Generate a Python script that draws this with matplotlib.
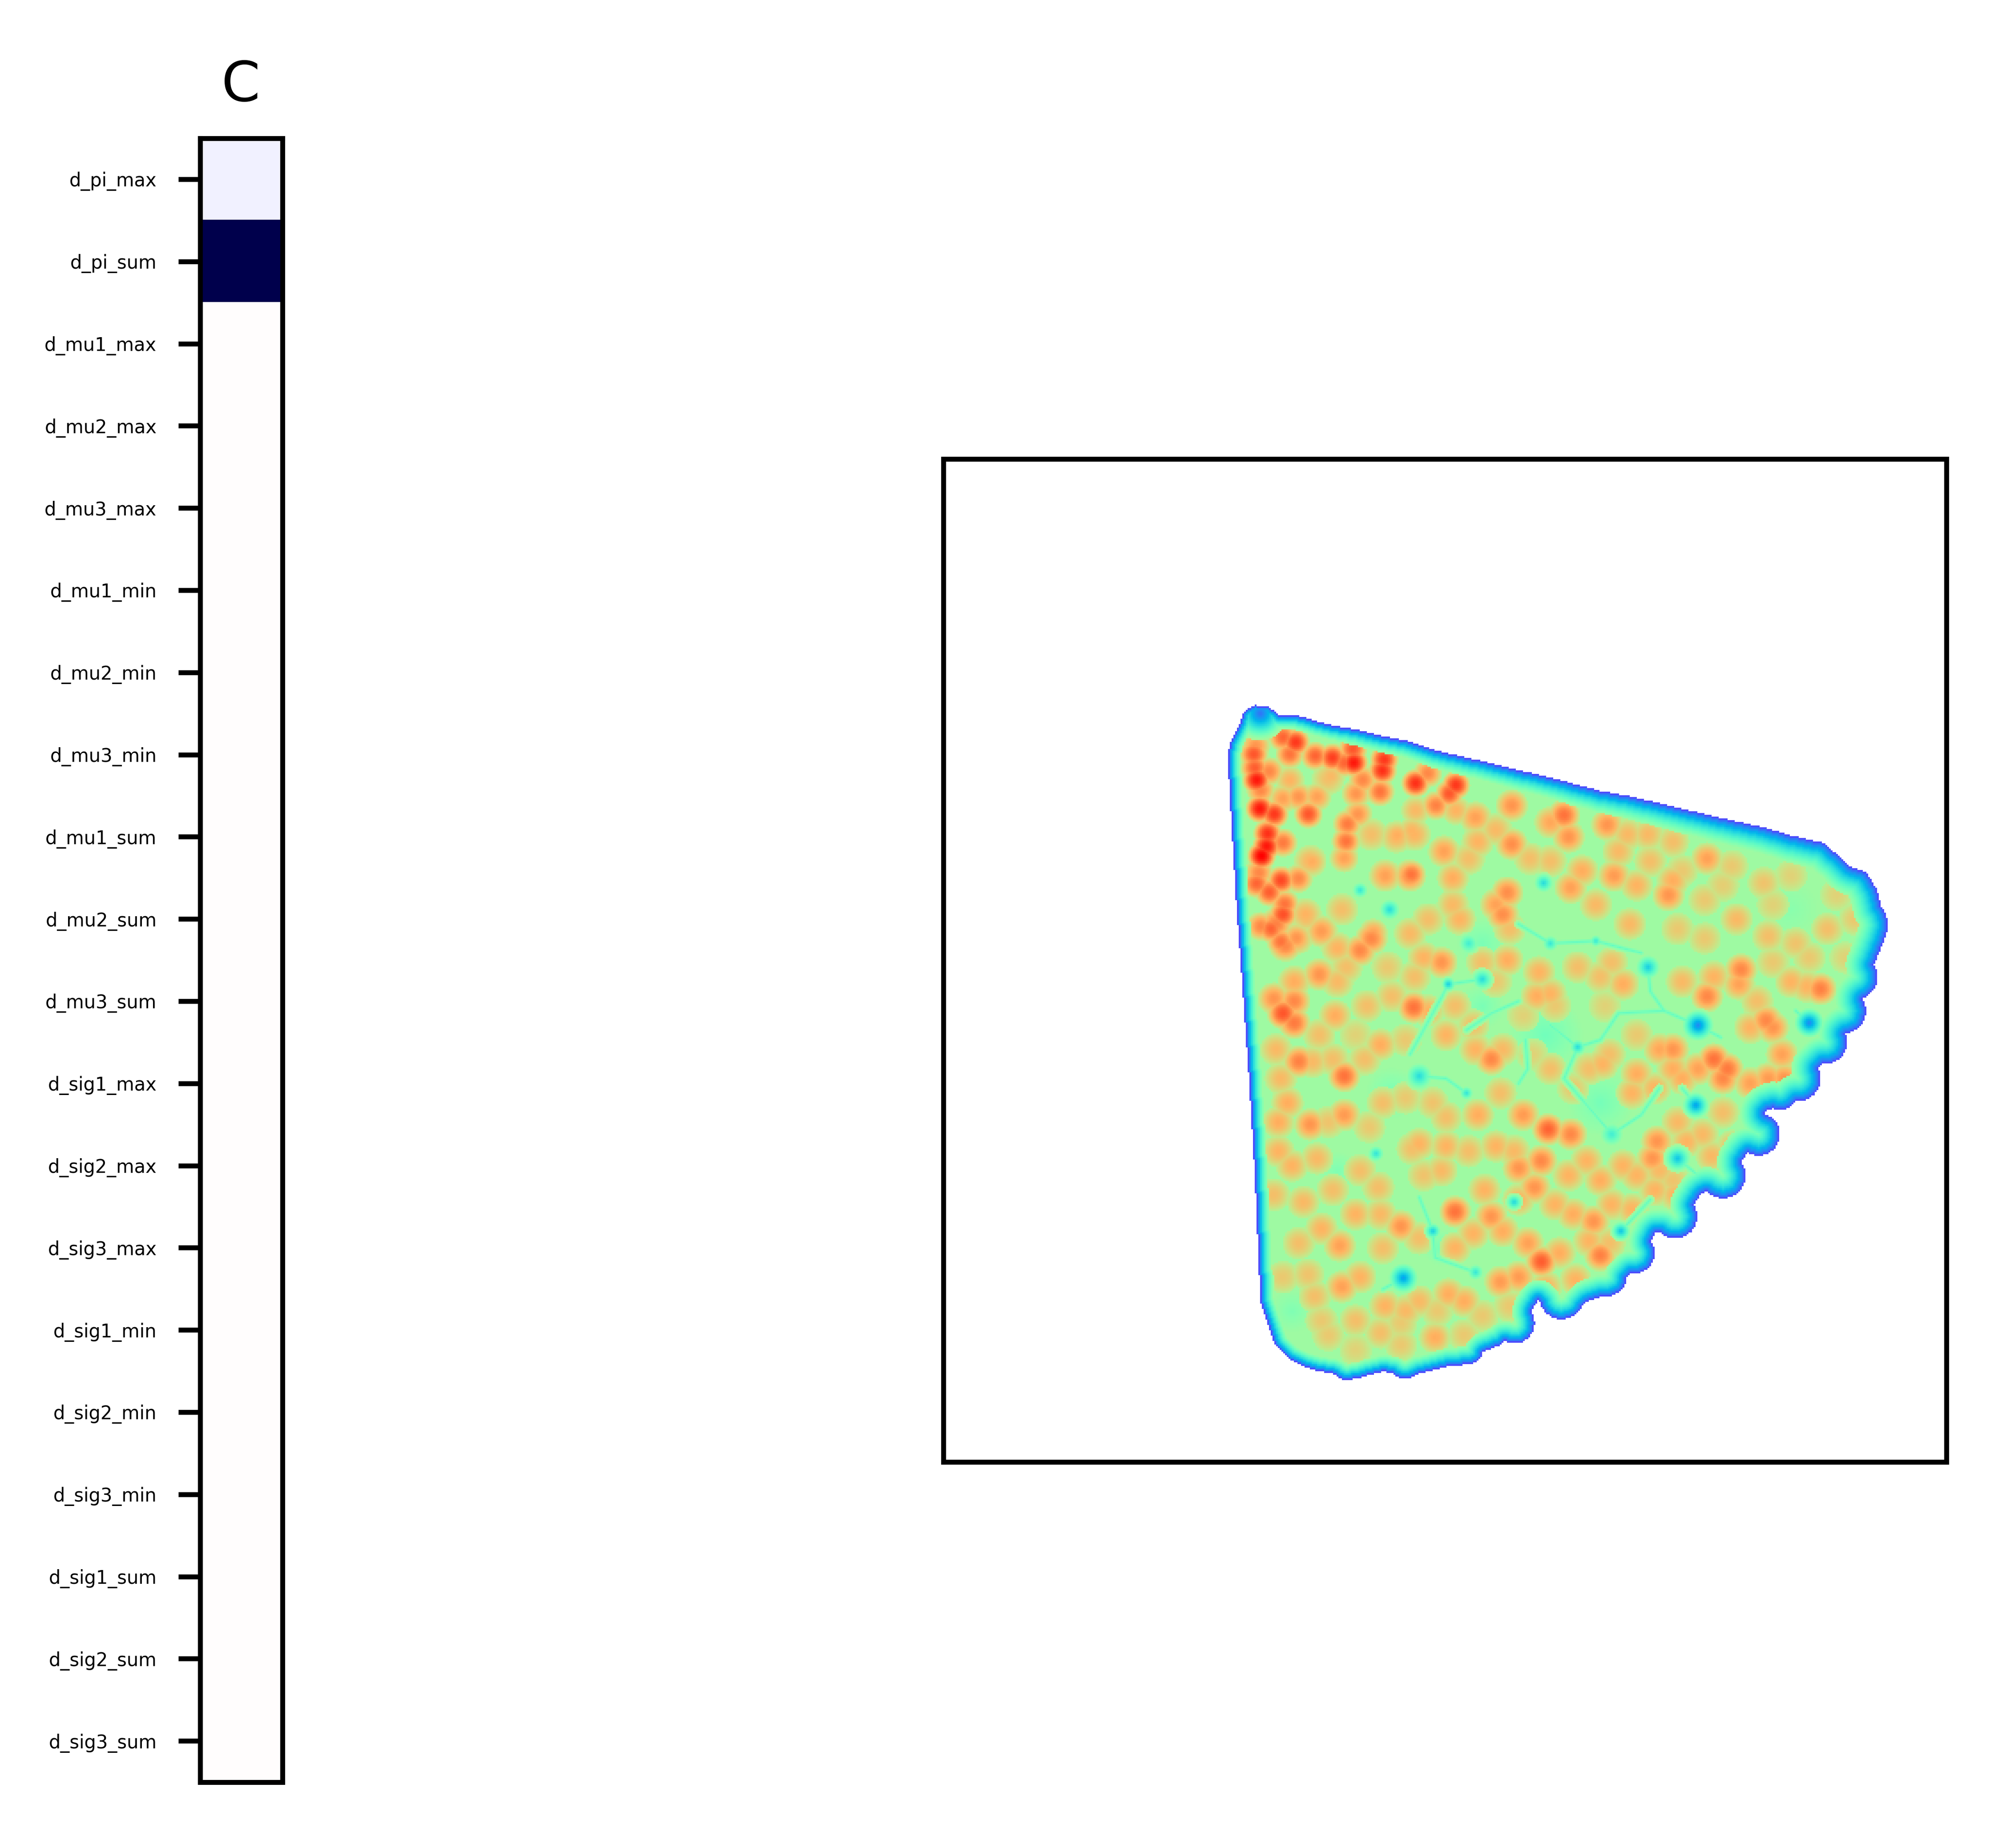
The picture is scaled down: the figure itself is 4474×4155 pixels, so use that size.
import numpy as np
from matplotlib import pyplot as plt
from matplotlib.path import Path

W, H = 4474, 4155

# left column, values
feature_names = ['d_pi_max', 'd_pi_sum', 'd_mu1_max', 'd_mu2_max', 'd_mu3_max',
                 'd_mu1_min', 'd_mu2_min', 'd_mu3_min', 'd_mu1_sum', 'd_mu2_sum',
                 'd_mu3_sum', 'd_sig1_max', 'd_sig2_max', 'd_sig3_max', 'd_sig1_min',
                 'd_sig2_min', 'd_sig3_min', 'd_sig1_sum', 'd_sig2_sum', 'd_sig3_sum']
feature_values = [-0.03, -1.0, 0.004, 0.004, 0.004, 0.004, 0.004, 0.004, 0.004, 0.004,
                  0.004, 0.004, 0.004, 0.004, 0.004, 0.004, 0.004, 0.004, 0.004, 0.004]

# map outline
outline = [(85, 115), (95, 90), (120, 78), (150, 82), (172, 100), (215, 100), (280, 118),
           (340, 128), (400, 142), (460, 153), (520, 172), (580, 185), (640, 198), (700, 212),
           (760, 225), (820, 240), (880, 255), (940, 265), (1000, 278), (1060, 292), (1120, 305),
           (1180, 318), (1240, 330), (1300, 347), (1370, 362), (1400, 385), (1430, 412),
           (1465, 422), (1490, 460), (1500, 500), (1515, 535), (1500, 575), (1485, 610),
           (1440, 680), (1420, 750), (1380, 800), (1340, 860), (1300, 905), (1245, 915),
           (1200, 1010), (1160, 1050), (1100, 1090), (1060, 1150), (1000, 1170), (960, 1240),
           (895, 1295), (840, 1315), (795, 1310), (745, 1305), (700, 1370), (660, 1400),
           (620, 1415), (590, 1440), (540, 1445), (500, 1455), (450, 1465), (400, 1455),
           (340, 1470), (290, 1460), (240, 1450), (195, 1430), (160, 1395), (130, 1310),
           (125, 1200), (118, 1050), (105, 850), (90, 650), (78, 500), (65, 300), (58, 180),
           (65, 155)]

# round lobes on the outline: x, y, radius
lobes = [(130, 118, 42), (1450, 530, 62), (1440, 640, 50), (1415, 710, 50), (1375, 775, 48),
         (1315, 850, 50), (1275, 875, 42), (1228, 965, 47), (1150, 1050, 50), (1045, 1135, 48),
         (955, 1210, 45), (895, 1260, 42), (795, 1300, 50), (690, 1355, 45), (585, 1405, 38),
         (450, 1432, 40), (320, 1445, 30)]

# hot cells: x, y, peak. this first group was read from a closer crop, its y needs no stretch
hot_top_left = [(120, 173, .8), (116, 191, .89), (118, 221, .88), (122, 248, .97), (150, 229, .82),
                (195, 191, .85), (208, 165, .93), (180, 154, .87), (251, 195, .87), (289, 199, .92),
                (315, 210, .87), (336, 210, .97), (334, 180, .89), (403, 203, .93), (399, 227, .94),
                (356, 248, .82), (472, 255, .94), (499, 233, .82), (562, 259, .93), (547, 278, .89),
                (517, 304, .83), (394, 274, .85), (341, 278, .8), (195, 248, .75), (285, 240, .74),
                (131, 270, .82), (180, 289, .78), (129, 311, .97), (161, 323, .93), (236, 323, .89),
                (214, 285, .8), (255, 285, .78), (345, 323, .8), (322, 345, .84), (319, 383, .85),
                (146, 366, .94), (144, 394, .97), (133, 415, 1.0), (180, 386, .84), (244, 428, .76),
                (315, 420, .78), (463, 456, .85), (405, 461, .78), (553, 461, .75), (214, 465, .82),
                (176, 469, .91), (150, 495, .88), (122, 476, .87), (127, 452, .82), (180, 544, .9),
                (184, 521, .85), (232, 551, .74), (262, 578, .76), (131, 570, .82), (154, 576, .87),
                (176, 604, .85), (210, 596, .8), (379, 585, .78), (349, 623, .78), (431, 370, .76),
                (465, 360, .75), (536, 405, .77), (562, 315, .75), (472, 315, .74)]
hot_top = [(605, 310, .78), (685, 285, .8), (800, 305, .85), (810, 350, .8), (895, 325, .8),
           (685, 365, .81), (650, 335, .74), (770, 320, .77), (940, 345, .74), (985, 345, .74),
           (1040, 360, .73), (1115, 395, .78), (920, 380, .74), (840, 420, .76), (910, 430, .79),
           (815, 455, .78), (1030, 470, .8), (1040, 440, .76), (870, 490, .74), (1180, 520, .74),
           (1250, 555, .73), (1310, 570, .72), (1380, 540, .73), (1240, 445, .72), (1150, 450, .7)]
hot_mid = [(675, 465, .81), (650, 490, .78), (665, 510, .81), (555, 435, .76), (555, 490, .74),
           (945, 530, .74), (375, 560, .82), (350, 585, .82), (265, 545, .79), (460, 550, .74),
           (490, 600, .75), (530, 610, .8), (675, 605, .76), (745, 630, .75), (930, 655, .76),
           (905, 610, .73), (740, 680, .76), (770, 675, .75), (185, 575, .82), (210, 560, .78),
           (230, 510, .75), (165, 530, .83)]
hot_left = [(260, 635, .8), (205, 650, .76), (300, 650, .74), (205, 690, .82), (180, 715, .89),
            (160, 685, .8), (205, 735, .84), (295, 720, .76), (365, 700, .73), (468, 703, .85),
            (395, 780, .76), (215, 815, .83), (165, 790, .74), (245, 815, .74), (315, 845, .85),
            (240, 945, .8), (190, 900, .76), (315, 925, .79), (175, 850, .74), (280, 940, .72)]
hot_centre = [(640, 810, .82), (605, 790, .75), (665, 790, .74), (610, 925, .76), (710, 925, .79),
              (765, 955, .87), (815, 965, .82), (750, 1020, .82), (700, 1035, .8), (735, 1075, .8),
              (690, 1000, .74), (625, 1080, .75), (560, 1125, .85), (640, 1135, .8), (665, 1165, .76),
              (530, 1040, .74), (465, 995, .73), (510, 900, .72), (440, 1155, .8), (395, 1130, .74),
              (200, 1030, .75), (255, 1015, .74), (305, 1195, .78), (265, 1160, .75), (215, 1190, .73),
              (225, 1105, .74), (390, 1075, .73), (490, 1050, .72), (310, 1280, .78), (235, 1255, .72),
              (545, 1295, .76), (580, 1310, .76), (405, 1320, .75), (450, 1330, .74), (480, 1310, .74),
              (515, 1385, .76), (395, 1375, .73), (440, 1355, .71), (265, 1350, .71), (660, 1270, .79),
              (700, 1260, .79), (750, 1228, .88), (720, 1190, .78), (790, 1210, .76), (825, 1265, .75),
              (880, 1215, .83), (865, 1145, .8), (820, 1130, .76), (905, 1110, .75), (855, 1185, .75),
              (960, 1050, .75), (995, 1015, .8), (1010, 1040, .74), (1045, 1090, .75), (1005, 980, .8),
              (1050, 940, .74), (1105, 965, .74), (1125, 1010, .74), (1150, 920, .73), (960, 840, .76),
              (885, 820, .75), (855, 830, .73), (1040, 1060, .72)]
hot_right = [(1040, 790, .8), (1130, 810, .85), (1160, 830, .84), (1150, 850, .82), (1095, 830, .78),
             (1060, 850, .76), (1210, 860, .78), (1250, 850, .79), (1285, 850, .8), (1280, 800, .78),
             (1245, 730, .82), (1260, 745, .8), (1210, 745, .75), (1190, 625, .82), (1185, 655, .78),
             (1115, 680, .82), (1060, 650, .74), (1130, 640, .75), (1300, 650, .75), (1365, 665, .83),
             (1335, 660, .75), (1225, 690, .73)]
# the paler peach cells that fill the rest
pale_cells = [(280, 230, .73), (375, 345, .73), (430, 350, .75), (470, 345, .75), (240, 400, .75),
              (405, 430, .78), (460, 430, .82), (535, 380, .78), (590, 395, .73), (610, 360, .75),
              (725, 395, .73), (770, 400, .73), (990, 400, .73), (1060, 420, .71), (1170, 410, .71),
              (1300, 430, .69), (960, 450, .75), (1110, 480, .71), (1260, 490, .69), (1400, 470, .69),
              (1440, 520, .71), (1110, 560, .71), (1340, 600, .71), (1420, 600, .69), (1260, 610, .71),
              (1050, 540, .71), (570, 520, .75), (500, 520, .73), (310, 500, .73), (300, 580, .75),
              (320, 620, .73), (410, 620, .71), (470, 640, .73), (680, 540, .73), (830, 620, .73),
              (880, 640, .73), (620, 610, .73), (650, 650, .71), (560, 700, .73), (500, 710, .75),
              (420, 680, .73), (340, 760, .69), (260, 760, .73), (290, 810, .73), (360, 810, .73),
              (450, 770, .71), (540, 760, .75), (600, 740, .73), (710, 720, .69), (780, 700, .71),
              (890, 700, .69), (960, 760, .71), (900, 800, .73), (770, 830, .73), (730, 800, .69),
              (820, 870, .71), (950, 880, .75), (1000, 870, .75), (1040, 830, .76), (1010, 790, .77),
              (660, 880, .73), (540, 930, .73), (450, 890, .71), (400, 900, .73), (370, 950, .71),
              (480, 985, .75), (540, 990, .75), (590, 1000, .73), (650, 990, .75), (850, 1020, .75),
              (810, 1050, .75), (880, 1060, .76), (930, 1030, .75), (1070, 980, .75), (1170, 990, .73),
              (1000, 1080, .75), (900, 1190, .73), (950, 1120, .75), (780, 1110, .75), (700, 1100, .75),
              (600, 1170, .75), (560, 1200, .75), (480, 1180, .73), (400, 1200, .73), (340, 1130, .75),
              (290, 1080, .73), (350, 1040, .73), (160, 1090, .73), (180, 1260, .71), (250, 1300, .73),
              (350, 1260, .75), (280, 1380, .71), (340, 1350, .73), (520, 1330, .71), (620, 1340, .71),
              (580, 1380, .71), (680, 1320, .71), (760, 1280, .75), (440, 1400, .71), (340, 1410, .69),
              (170, 1000, .75), (170, 940, .76)]

# broad cooler patches under the cells: x, y, lowest value, radius
cool_zones = [(760, 760, .47, 120), (420, 880, .49, 90), (880, 900, .48, 110), (620, 570, .49, 90),
              (300, 1040, .5, 70), (200, 1330, .5, 80), (1300, 500, .52, 120), (530, 1200, .48, 60),
              (620, 700, .49, 80)]

# cold spots: x, y, lowest value, radius
cold_spots = [(1095, 740, .18, 38), (1340, 735, .18, 36), (1090, 905, .22, 32), (545, 655, .3, 18),
              (620, 645, .33, 26), (755, 445, .33, 24), (415, 500, .33, 26), (350, 460, .36, 20),
              (445, 1262, .22, 36), (510, 1165, .3, 20), (925, 1165, .28, 24), (1050, 1015, .28, 32),
              (985, 620, .3, 30), (480, 845, .33, 33), (830, 785, .33, 20), (585, 880, .35, 17),
              (690, 1105, .32, 20), (385, 1005, .35, 20), (905, 965, .38, 30), (605, 1250, .36, 20),
              (770, 570, .36, 20), (870, 565, .36, 15), (590, 570, .38, 26), (130, 95, .15, 60)]

# thin cyan creases between the cells
cold_veins = [[(985, 620), (990, 670), (1020, 710), (1095, 740)],
              [(770, 740), (830, 785), (880, 770), (920, 715), (1020, 710)],
              [(715, 770), (720, 830), (700, 860)],
              [(480, 845), (540, 850), (585, 880)],
              [(585, 750), (640, 715), (700, 690)],
              [(700, 530), (770, 570), (870, 565), (970, 590)],
              [(1095, 740), (1145, 765)],
              [(1090, 905), (1060, 870)],
              [(905, 965), (970, 925), (1010, 870)],
              [(510, 1165), (515, 1220), (605, 1250)],
              [(480, 1095), (510, 1165)],
              [(830, 785), (800, 850), (905, 965)],
              [(445, 1262), (400, 1285)],
              [(1050, 1015), (1095, 1050)],
              [(925, 1165), (990, 1100)],
              [(1340, 735), (1310, 710)],
              [(545, 655), (620, 645)],
              [(545, 655), (460, 800)]]

# the big crop came back squeezed in y, this undoes it
YS = 1.0664

# the map covers 564 cells, coordinates are those of the reading above
n = 564
x0, x1, y0, y1 = -567.9, 1642.0, -459.1, 1750.8
step = (x1 - x0) / n
gx, gy = np.meshgrid(x0 + step * (np.arange(n) + .5), y0 + step * (np.arange(n) + .5))

mask = Path([(a, b * YS) for a, b in outline + outline[:1]]).contains_points(np.c_[gx.ravel(), gy.ravel()]).reshape(n, n)
for lx, ly, lr in lobes:
    mask |= np.hypot(gx - lx, gy - ly * YS) < lr

# distance of each cell to the rim of the map
inner = mask[1:-1, 1:-1] & mask[:-2, 1:-1] & mask[2:, 1:-1] & mask[1:-1, :-2] & mask[1:-1, 2:]
rim = mask.copy()
rim[1:-1, 1:-1] &= ~inner
rim_x, rim_y = gx[rim], gy[rim]
in_x, in_y = gx[mask], gy[mask]
edge = np.zeros(in_x.size)
for k in range(0, in_x.size, 4000):
    d = np.hypot(in_x[k:k + 4000, None] - rim_x, in_y[k:k + 4000, None] - rim_y)
    edge[k:k + 4000] = d.min(axis=1)
rim_dist = np.zeros((n, n))
rim_dist[mask] = edge

field = np.full((n, n), .56)
for cx, cy, low, r in cool_zones:
    d = np.hypot(gx - cx, gy - cy * YS)
    field = np.minimum(field, low + (.6 - low) * np.minimum(d / r, 1))

cells = [(a, b, p, 32) for a, b, p in hot_top_left]
for group in (hot_top, hot_mid, hot_left, hot_centre, hot_right, pale_cells):
    cells += [(a, b * YS, p, 36) for a, b, p in group]
for px, py, peak, r in cells:
    d = np.hypot(gx - px, gy - py)
    cell = np.where(d < r, .6 + (peak - .6) * (1 - (d / r) ** 2), 0)
    field = np.maximum(field, cell)

for cx, cy, low, r in cold_spots:
    d = np.hypot(gx - cx, gy - cy * YS)
    field = np.minimum(field, low + (.6 - low) * np.minimum(d / r, 1) ** 1.2 + (d >= r))
for vein in cold_veins:
    for (ax, ay), (bx, by) in zip(vein[:-1], vein[1:]):
        ay, by = ay * YS, by * YS
        t = np.clip(((gx - ax) * (bx - ax) + (gy - ay) * (by - ay)) / ((bx - ax) ** 2 + (by - ay) ** 2), 0, 1)
        d = np.hypot(gx - ax - t * (bx - ax), gy - ay - t * (by - ay))
        field = np.minimum(field, .45 + .17 * np.minimum(d / 10, 1) + (d >= 10))

# blue rim, wider on the lobed side
width = 26 + 34 * np.clip((gx - 100) / 1350, 0, 1)
field = np.minimum(field, .1 + .46 * np.minimum(rim_dist / width, 1) ** .8 + (rim_dist >= width))
field = np.ma.masked_where(~mask, field)

fig = plt.figure(figsize=(W / 1000, H / 1000), dpi=1000)

# strip on the left
ax1 = fig.add_axes([449.5 / W, 1 - 4006.5 / H, 185 / W, 3696 / H])
ax1.imshow(np.array(feature_values).reshape(-1, 1), cmap='seismic', vmin=-1, vmax=1, aspect='auto')
ax1.set_xticks([])
ax1.set_yticks(range(len(feature_names)))
ax1.set_yticklabels(feature_names, fontsize=3)
ax1.set_title('C', fontsize=9)

# map on the right
ax2 = fig.add_axes([2120.5 / W, 1 - 3286.5 / H, 2255 / W, 2255 / H])
ax2.imshow(field, cmap='rainbow', vmin=0, vmax=1, extent=(x0, x1, y1, y0), interpolation='nearest')
ax2.set_xticks([])
ax2.set_yticks([])

fig.savefig('out.png', dpi=1000)
